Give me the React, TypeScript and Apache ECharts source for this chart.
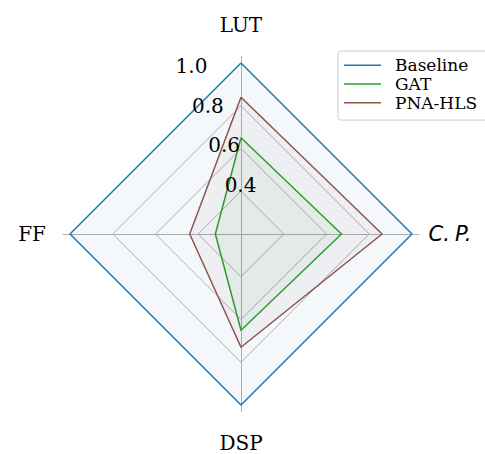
import React, { useEffect, useRef } from "react";
import * as echarts from "echarts";

const axes = ["LUT", "FF", "DSP", "C.P."];
const baseline = [1.0, 1.0, 1.0, 1.0];
const gat = [0.65, 0.32, 0.65, 0.67];
const pnaHls = [0.84, 0.44, 0.73, 0.86];
const tickValues = [0.4, 0.6, 0.8, 1.0];
const seriesNames = ["Baseline", "GAT", "PNA-HLS"];
const colors = ["#1f77b4", "#2ca02c", "#8c564b"];

const RMIN = 0.2;
const RMAX = 1.0;

export default function App() {
  const ref = useRef<HTMLDivElement>(null);
  useEffect(() => {
    if (!ref.current) return;
    const chart = echarts.init(ref.current, null, { renderer: "svg" });
    const CX = 241;
    const CY = 234;
    const R = 171;
    const serif = "'DejaVu Serif', serif";
    const indicators = axes.map((n) => ({ name: n, min: RMIN, max: RMAX }));
    const dirs: Record<string, [number, number]> = {
      LUT: [0, -1],
      FF: [-1, 0],
      DSP: [0, 1],
      "C.P.": [1, 0],
    };
    const nameR = 209;
    const nameTexts = axes.map((n) => {
      const x = CX + dirs[n][0] * nameR;
      const y = CY + dirs[n][1] * nameR;
      if (n === "C.P.") {
        return {
          type: "text",
          x,
          y,
          z: 100,
          style: {
            text: "{a|C.}{b|P.}",
            textAlign: "center",
            textVerticalAlign: "middle",
            rich: {
              a: {
                fontFamily: "'DejaVu Sans', sans-serif",
                fontStyle: "italic",
                fontSize: 21,
                color: "#000",
              },
              b: {
                fontFamily: "'DejaVu Sans', sans-serif",
                fontStyle: "italic",
                fontSize: 21,
                color: "#000",
                padding: [0, 0, 0, 5],
              },
            },
          },
        };
      }
      return {
        type: "text",
        x,
        y,
        z: 100,
        style: {
          text: n,
          fill: "#000",
          font: `20px ${serif}`,
          textAlign: "center",
          textVerticalAlign: "middle",
        },
      };
    });
    const ang = (22.5 * Math.PI) / 180;
    const tickTexts = tickValues.map((v) => {
      const r = ((v - RMIN) / (RMAX - RMIN)) * R;
      return {
        type: "text",
        x: CX - r * Math.sin(ang),
        y: CY - r * Math.cos(ang),
        z: 100,
        style: {
          text: v.toFixed(1),
          fill: "#000",
          font: `20px ${serif}`,
          textAlign: "left",
          textVerticalAlign: "bottom",
        },
      };
    });
    const data = [baseline, gat, pnaHls];
    chart.setOption({
      animation: false,
      backgroundColor: "#fff",
      color: colors,
      legend: {
        orient: "vertical",
        left: 338,
        top: 51,
        padding: [5, 12, 8, 6],
        borderColor: "#cccccc",
        borderWidth: 1,
        borderRadius: 3,
        backgroundColor: "#fff",
        itemWidth: 37,
        itemHeight: 1.5,
        itemGap: 0,
        icon: "rect",
        textStyle: {
          fontFamily: serif,
          fontSize: 17,
          lineHeight: 18.7,
          color: "#000",
          padding: [0, 0, 0, 9],
        },
        data: seriesNames,
      },
      radar: [
        {
          center: [CX, CY],
          radius: R,
          startAngle: 90,
          shape: "polygon",
          splitNumber: 4,
          indicator: indicators,
          axisName: { show: false },
          axisLine: { show: false },
          axisTick: { show: false },
          axisLabel: { show: false },
          splitArea: { show: false },
          splitLine: { lineStyle: { color: "#b0b0b0", width: 1 } },
        },
        {
          center: [CX, CY],
          radius: R + 7,
          startAngle: 90,
          shape: "polygon",
          splitNumber: 4,
          indicator: indicators,
          axisName: { show: false },
          axisLine: { show: true, lineStyle: { color: "#b0b0b0", width: 1 } },
          axisTick: { show: false },
          axisLabel: { show: false },
          splitArea: { show: false },
          splitLine: { show: false },
        },
      ],
      series: seriesNames.map((name, i) => ({
        type: "radar",
        name,
        radarIndex: 0,
        symbol: "none",
        lineStyle: { color: colors[i], width: 1.5 },
        itemStyle: { color: colors[i] },
        areaStyle: { color: colors[i], opacity: 0.05 },
        data: [{ value: data[i], name }],
      })),
      graphic: [...nameTexts, ...tickTexts],
    });
    return () => chart.dispose();
  }, []);
  return (
    <div
      ref={ref}
      style={{ position: "fixed", left: 0, top: 0, width: 485, height: 454 }}
    />
  );
}
